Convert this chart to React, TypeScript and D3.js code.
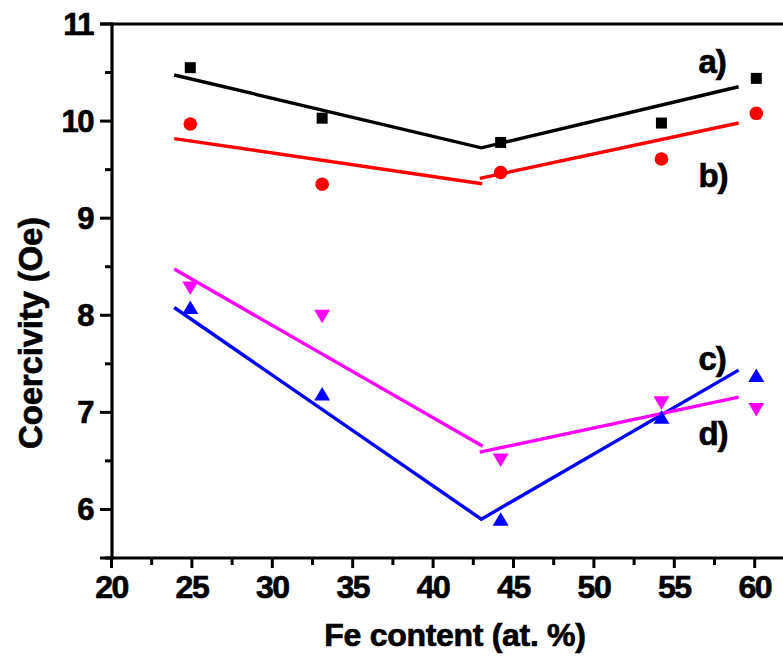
import React from "react";
import * as d3 from "d3";

const feContent = [24.9, 33.1, 44.2, 54.2, 60.1];
const seriesA = [10.55, 10.03, 9.78, 9.98, 10.44];
const seriesB = [9.97, 9.35, 9.47, 9.61, 10.08];
const seriesC = [8.08, 7.19, 5.9, 6.95, 7.38];
const seriesD = [8.28, 7.99, 6.51, 7.1, 7.03];

// fitted piecewise lines: [x, y] pairs per segment
const fitA = [[[23.9, 10.475], [43.0, 9.725], [59.0, 10.354]]];
const fitB = [
  [[23.9, 9.82], [43.05, 9.355]],
  [[42.9, 9.41], [59.0, 9.98]],
];
const fitC = [[[23.9, 8.08], [43.0, 5.9], [59.0, 7.435]]];
const fitD = [
  [[23.9, 8.476], [43.09, 6.652]],
  [[42.9, 6.59], [59.0, 7.157]],
];

const seriesLabels = ["a)", "b)", "c)", "d)"];
const labelPos = [
  [56.5, 10.5],
  [56.5, 9.32],
  [56.5, 7.44],
  [56.5, 6.66],
];

const xTicks = [20, 25, 30, 35, 40, 45, 50, 55, 60];
const xMinor = [22.5, 27.5, 32.5, 37.5, 42.5, 47.5, 52.5, 57.5, 62.5];
const yTicks = [6, 7, 8, 9, 10, 11];
const yMinor = [5.5, 6.5, 7.5, 8.5, 9.5, 10.5];

const W = 783;
const H = 660;
const left = 112;
const top = 24;
const bottom = 558;

export default function App() {
  const x = d3.scaleLinear().domain([20, 62]).range([111.5, 111.5 + 42 * 16.08]);
  const y = d3.scaleLinear().domain([5.5, 11]).range([bottom, top]);
  const line = d3
    .line<number[]>()
    .x((d) => x(d[0]))
    .y((d) => y(d[1]));

  const font = "'Liberation Sans', Arial, sans-serif";
  const fits = [
    { segs: fitA, color: "#000000" },
    { segs: fitB, color: "#ff0000" },
    { segs: fitC, color: "#0000ff" },
    { segs: fitD, color: "#ff00ff" },
  ];
  const xRight = x(62);

  const sq = (cx: number, cy: number, i: number) => (
    <rect key={i} x={cx - 5.5} y={cy - 5.5} width={11} height={11} fill="#000" />
  );
  const circ = (cx: number, cy: number, i: number) => (
    <circle key={i} cx={cx} cy={cy} r={6.8} fill="#ff0000" />
  );
  const triUp = (cx: number, cy: number, i: number) => (
    <path
      key={i}
      d={`M${cx},${cy - 7} L${cx + 8},${cy + 6.5} L${cx - 8},${cy + 6.5} Z`}
      fill="#0000ff"
    />
  );
  const triDown = (cx: number, cy: number, i: number) => (
    <path
      key={i}
      d={`M${cx},${cy + 7} L${cx + 8},${cy - 6.5} L${cx - 8},${cy - 6.5} Z`}
      fill="#ff00ff"
    />
  );

  const heavy = { stroke: "#000", strokeWidth: 0.7, fill: "#000" };

  return (
    <svg
      width={W}
      height={H}
      style={{ position: "absolute", left: 0, top: 0, background: "#fff" }}
      fontFamily={font}
      fontWeight="bold"
    >
      <rect width={W} height={H} fill="#fff" />
      {/* fitted lines */}
      {fits.map((f, i) =>
        f.segs.map((s, j) => (
          <path
            key={`${i}-${j}`}
            d={line(s as number[][]) || ""}
            fill="none"
            stroke={f.color}
            strokeWidth={3.4}
            strokeLinejoin="miter"
          />
        ))
      )}
      {/* markers */}
      {feContent.map((v, i) => sq(x(v), y(seriesA[i]), i))}
      {feContent.map((v, i) => circ(x(v), y(seriesB[i]), i))}
      {feContent.map((v, i) => triUp(x(v), y(seriesC[i]), i))}
      {feContent.map((v, i) => triDown(x(v), y(seriesD[i]), i))}

      {/* series labels */}
      {seriesLabels.map((t, i) => (
        <text
          key={t}
          x={x(labelPos[i][0])}
          y={y(labelPos[i][1])}
          fontSize={33}
          letterSpacing={-1}
          {...heavy}
        >
          {t}
        </text>
      ))}

      {/* axes frame */}
      <line x1={left} x2={left} y1={top - 1.5} y2={bottom + 1.5} stroke="#000" strokeWidth={3.2} />
      <line x1={left - 12} x2={xRight} y1={top} y2={top} stroke="#000" strokeWidth={3.2} />
      <line x1={left - 12} x2={xRight} y1={bottom} y2={bottom} stroke="#000" strokeWidth={3.2} />

      {/* y ticks */}
      {yTicks.map((t) => (
        <g key={t}>
          <line x1={left - 12} x2={left} y1={y(t)} y2={y(t)} stroke="#000" strokeWidth={3} />
          <text
            x={93}
            y={y(t)}
            textAnchor="end"
            dominantBaseline="central"
            fontSize={31}
            letterSpacing={-1.5}
            {...heavy}
          >
            {t}
          </text>
        </g>
      ))}
      {yMinor.map((t) => (
        <line key={t} x1={left - 7} x2={left} y1={y(t)} y2={y(t)} stroke="#000" strokeWidth={3} />
      ))}

      {/* x ticks */}
      {xTicks.map((t) => (
        <g key={t}>
          <line x1={x(t)} x2={x(t)} y1={bottom} y2={bottom + 10} stroke="#000" strokeWidth={3} />
          <text
            x={x(t)}
            y={598}
            textAnchor="middle"
            fontSize={32}
            letterSpacing={-1.5}
            {...heavy}
          >
            {t}
          </text>
        </g>
      ))}
      {xMinor.map((t) => (
        <line key={t} x1={x(t)} x2={x(t)} y1={bottom} y2={bottom + 7} stroke="#000" strokeWidth={3} />
      ))}

      {/* axis titles */}
      <text x={455} y={646} textAnchor="middle" fontSize={32} letterSpacing={-0.3} {...heavy}>
        Fe content (at. %)
      </text>
      <text
        transform={`translate(42,333) rotate(-90)`}
        textAnchor="middle"
        fontSize={33}
        letterSpacing={-0.2}
        {...heavy}
      >
        Coercivity (Oe)
      </text>
    </svg>
  );
}
